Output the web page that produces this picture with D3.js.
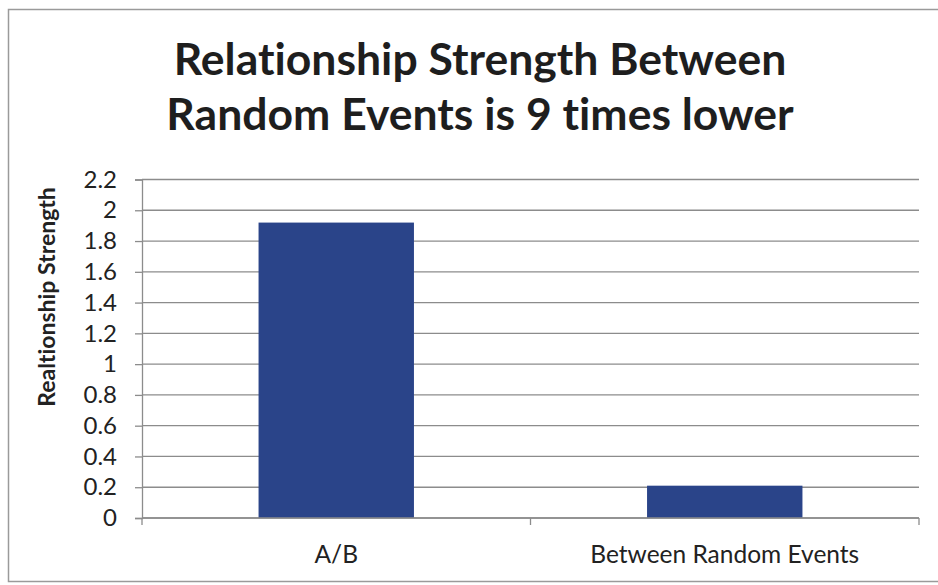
<!DOCTYPE html>
<html>
<head>
<meta charset="utf-8">
<script src="https://cdn.jsdelivr.net/npm/d3@7"></script>
<style>
  html, body { margin: 0; padding: 0; background: #fff; }
  svg { display: block; }
  svg text { font-variant-ligatures: none; font-feature-settings: "liga" 0, "clig" 0; }
</style>
</head>
<body>
<svg id="chart" width="938" height="585"></svg>
<script>
// Chart data
const categories = ["A/B", "Between Random Events"];
const strengths = [1.92, 0.21];
const yTicks = [0, 0.2, 0.4, 0.6, 0.8, 1, 1.2, 1.4, 1.6, 1.8, 2, 2.2];
const titleLines = ["Relationship Strength Between", "Random Events is 9 times lower"];
const yAxisTitle = "Realtionship Strength";

const svg = d3.select("#chart");
const fontFamily = "Lato, 'Open Sans', sans-serif";

// Outer frame
svg.append("rect")
  .attr("x", 8.5).attr("y", 9.5)
  .attr("width", 940).attr("height", 572)
  .attr("fill", "none")
  .attr("stroke", "#9a9a9a")
  .attr("stroke-width", 1.5);

const plot = { left: 142, right: 919, top: 179.5, bottom: 518 };

const x = d3.scaleBand()
  .domain(categories)
  .range([plot.left, plot.right])
  .paddingInner(0.6)
  .paddingOuter(0.3);

const y = d3.scaleLinear()
  .domain([0, 2.2])
  .range([plot.bottom, plot.top]);

// Horizontal gridlines
svg.append("g")
  .selectAll("line")
  .data(yTicks)
  .join("line")
  .attr("x1", plot.left).attr("x2", plot.right)
  .attr("y1", d => y(d)).attr("y2", d => y(d))
  .attr("stroke", "#8c8c8c")
  .attr("stroke-width", 1.3);

// Bars
svg.append("g")
  .selectAll("rect")
  .data(categories.map((c, i) => ({ c, v: strengths[i] })))
  .join("rect")
  .attr("x", d => x(d.c))
  .attr("width", x.bandwidth())
  .attr("y", d => y(d.v))
  .attr("height", d => y(0) - y(d.v))
  .attr("fill", "#2a4489");

// Y axis
const yAxis = svg.append("g")
  .attr("transform", `translate(${plot.left},0)`)
  .call(d3.axisLeft(y).tickValues(yTicks).tickSize(7).tickPadding(18)
    .tickFormat(d3.format("~g")));
yAxis.select(".domain").attr("stroke", "#8c8c8c").attr("stroke-width", 1.3);
yAxis.selectAll(".tick line").attr("stroke", "#8c8c8c").attr("stroke-width", 1.3);
yAxis.selectAll(".tick text")
  .attr("font-family", fontFamily)
  .attr("font-size", 24)
  .attr("fill", "#222");

// X axis with category boundary ticks
const xAxisG = svg.append("g")
  .attr("transform", `translate(0,${plot.bottom})`);
xAxisG.append("line")
  .attr("x1", plot.left).attr("x2", plot.right)
  .attr("stroke", "#8c8c8c").attr("stroke-width", 1.3);
const step = (plot.right - plot.left) / categories.length;
xAxisG.selectAll("line.sep")
  .data(d3.range(categories.length + 1))
  .join("line")
  .attr("class", "sep")
  .attr("x1", i => plot.left + i * step)
  .attr("x2", i => plot.left + i * step)
  .attr("y1", 0).attr("y2", 7)
  .attr("stroke", "#8c8c8c").attr("stroke-width", 1.3);
xAxisG.selectAll("text")
  .data(categories)
  .join("text")
  .attr("x", d => x(d) + x.bandwidth() / 2)
  .attr("y", 45)
  .attr("text-anchor", "middle")
  .attr("font-family", fontFamily)
  .attr("font-size", 24.5)
  .attr("fill", "#222")
  .text(d => d);

// Y axis title
svg.append("text")
  .attr("transform", "translate(55,297) rotate(-90)")
  .attr("text-anchor", "middle")
  .attr("font-family", fontFamily)
  .attr("font-weight", "bold")
  .attr("font-size", 23)
  .attr("fill", "#222")
  .text(yAxisTitle);

// Title
svg.append("g")
  .selectAll("text")
  .data(titleLines)
  .join("text")
  .attr("x", 480)
  .attr("y", (d, i) => 75 + i * 55)
  .attr("text-anchor", "middle")
  .attr("font-family", fontFamily)
  .attr("font-weight", "bold")
  .attr("font-size", 44.5)
  .attr("fill", "#1e1e1e")
  .text(d => d);
</script>
</body>
</html>
